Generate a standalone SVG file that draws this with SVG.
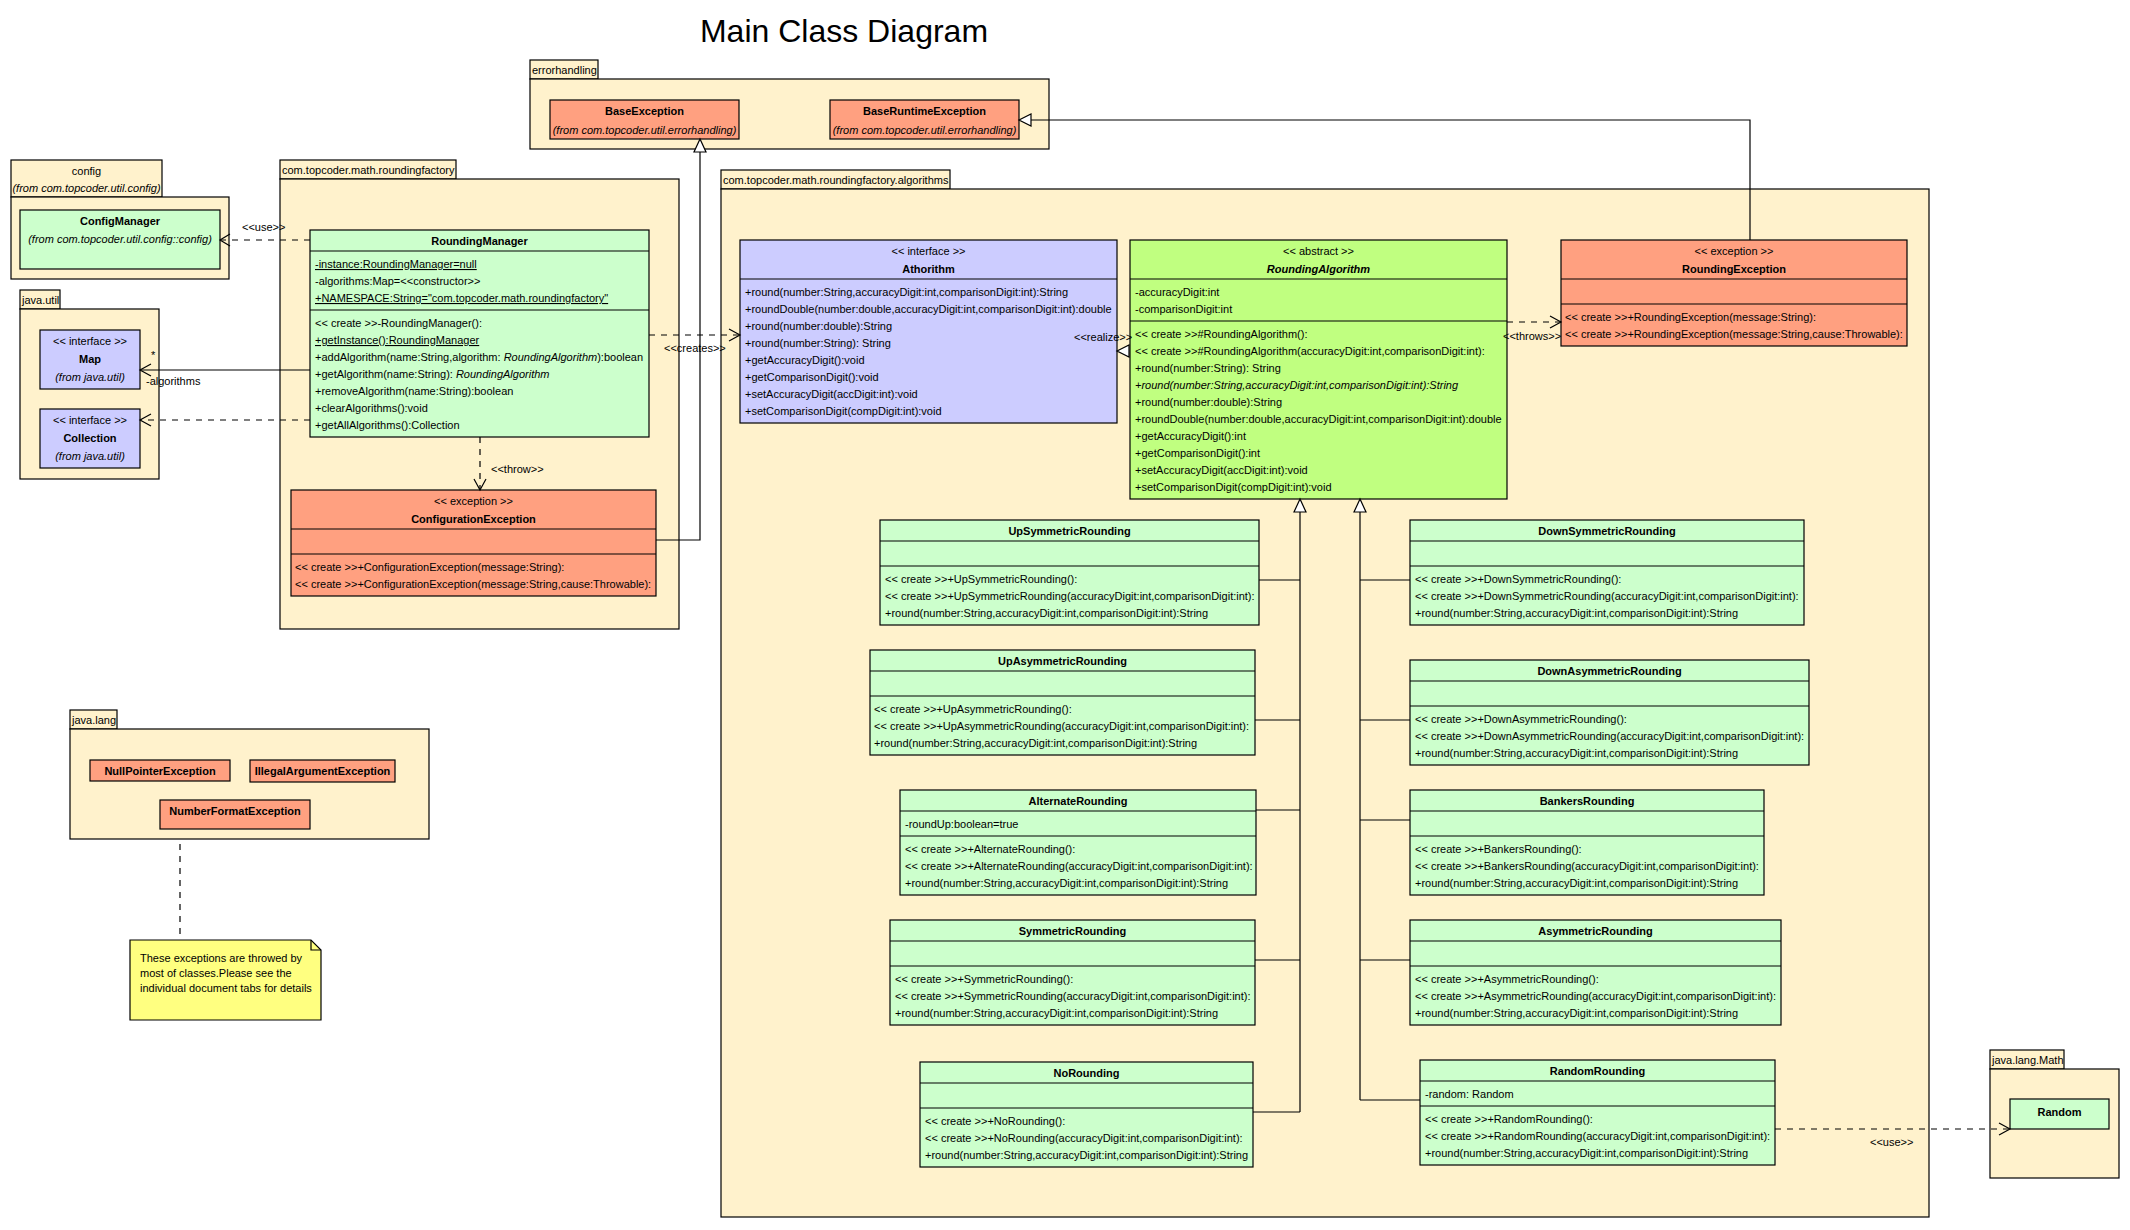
<svg xmlns="http://www.w3.org/2000/svg" width="2130" height="1230" viewBox="0 0 2130 1230">
<style>
text{font-family:"Liberation Sans",Arial,sans-serif;font-size:11px;fill:#000}
.title{font-size:32px}
.b{font-weight:bold}
.i{font-style:italic}
.c{text-anchor:middle}
.u{text-decoration:underline}
.pkg{fill:#FFF2CC;stroke:#000;stroke-width:1.2}
.cls{fill:#CCFFCC;stroke:#000;stroke-width:1.2}
.ifc{fill:#CCCCFF;stroke:#000;stroke-width:1.2}
.abs{fill:#C0FF80;stroke:#000;stroke-width:1.2}
.exc{fill:#FFA080;stroke:#000;stroke-width:1.2}
.note{fill:#FFFF80;stroke:#000;stroke-width:1.2}
.sep{stroke:#000;stroke-width:1.2}
.ln{fill:none;stroke:#000;stroke-width:1.2}
.dash{stroke-dasharray:6,6}
.tri{fill:#fff;stroke:#000;stroke-width:1.2}
</style>
<rect width="2130" height="1230" fill="#fff"/>
<text class="title c" x="844" y="42">Main Class Diagram</text>

<g id="packages">
<g id="pkg-errorhandling"><rect class="pkg" x="530" y="60" width="68" height="19"/><rect class="pkg" x="530" y="79" width="519" height="70"/><text x="532" y="74">errorhandling</text></g>
<g id="pkg-config"><rect class="pkg" x="11" y="160" width="151" height="37"/><rect class="pkg" x="11" y="197" width="218" height="82"/><text class="c" x="86.5" y="175">config</text><text class="c i" x="86.5" y="192">(from com.topcoder.util.config)</text></g>
<g id="pkg-javautil"><rect class="pkg" x="20" y="290" width="40" height="19"/><rect class="pkg" x="20" y="309" width="139" height="170"/><text x="22" y="304">java.util</text></g>
<g id="pkg-roundingfactory"><rect class="pkg" x="280" y="160" width="176" height="19"/><rect class="pkg" x="280" y="179" width="399" height="450"/><text x="282" y="174">com.topcoder.math.roundingfactory</text></g>
<g id="pkg-algorithms"><rect class="pkg" x="721" y="170" width="229" height="19"/><rect class="pkg" x="721" y="189" width="1208" height="1028"/><text x="723" y="184">com.topcoder.math.roundingfactory.algorithms</text></g>
<g id="pkg-javalang"><rect class="pkg" x="70" y="710" width="47" height="19"/><rect class="pkg" x="70" y="729" width="359" height="110"/><text x="72" y="724">java.lang</text></g>
<g id="pkg-javalangmath"><rect class="pkg" x="1990" y="1050" width="74" height="19"/><rect class="pkg" x="1990" y="1069" width="129" height="109"/><text x="1992" y="1064">java.lang.Math</text></g>
</g>

<g id="nodes">
<g id="ConfigManager"><rect class="cls" x="20" y="210" width="200" height="59"/><text class="c b" x="120" y="225">ConfigManager</text><text class="c i" x="120" y="243">(from com.topcoder.util.config::config)</text></g>
<g id="Map"><rect class="ifc" x="40" y="330" width="100" height="59"/><text class="c" x="90" y="345">&lt;&lt; interface &gt;&gt;</text><text class="c b" x="90" y="363">Map</text><text class="c i" x="90" y="381">(from java.util)</text></g>
<g id="Collection"><rect class="ifc" x="40" y="409" width="100" height="59"/><text class="c" x="90" y="424">&lt;&lt; interface &gt;&gt;</text><text class="c b" x="90" y="442">Collection</text><text class="c i" x="90" y="460">(from java.util)</text></g>

<g id="RoundingManager"><rect class="cls" x="310" y="230" width="339" height="207"/>
<line class="sep" x1="310" y1="251" x2="649" y2="251"/><line class="sep" x1="310" y1="310" x2="649" y2="310"/>
<text class="c b" x="479.5" y="245">RoundingManager</text>
<text class="u" x="315" y="268">-instance:RoundingManager=null</text>
<text x="315" y="285">-algorithms:Map=&lt;&lt;constructor&gt;&gt;</text>
<text class="u" x="315" y="302">+NAMESPACE:String="com.topcoder.math.roundingfactory"</text>
<text x="315" y="327">&lt;&lt; create &gt;&gt;-RoundingManager():</text>
<text class="u" x="315" y="344">+getInstance():RoundingManager</text>
<text x="315" y="361">+addAlgorithm(name:String,algorithm: <tspan class="i">RoundingAlgorithm</tspan>):boolean</text>
<text x="315" y="378">+getAlgorithm(name:String): <tspan class="i">RoundingAlgorithm</tspan></text>
<text x="315" y="395">+removeAlgorithm(name:String):boolean</text>
<text x="315" y="412">+clearAlgorithms():void</text>
<text x="315" y="429">+getAllAlgorithms():Collection</text>
</g>

<g id="ConfigurationException"><rect class="exc" x="291" y="490" width="365" height="106"/>
<line class="sep" x1="291" y1="529" x2="656" y2="529"/><line class="sep" x1="291" y1="554" x2="656" y2="554"/>
<text class="c" x="473.5" y="505">&lt;&lt; exception &gt;&gt;</text><text class="c b" x="473.5" y="523">ConfigurationException</text>
<text x="295" y="571">&lt;&lt; create &gt;&gt;+ConfigurationException(message:String):</text>
<text x="295" y="588">&lt;&lt; create &gt;&gt;+ConfigurationException(message:String,cause:Throwable):</text>
</g>

<g id="BaseException"><rect class="exc" x="550" y="100" width="189" height="39"/><text class="c b" x="644.5" y="115">BaseException</text><text class="c i" x="644.5" y="134">(from com.topcoder.util.errorhandling)</text></g>
<g id="BaseRuntimeException"><rect class="exc" x="830" y="100" width="189" height="39"/><text class="c b" x="924.5" y="115">BaseRuntimeException</text><text class="c i" x="924.5" y="134">(from com.topcoder.util.errorhandling)</text></g>

<g id="Athorithm"><rect class="ifc" x="740" y="240" width="377" height="183"/>
<line class="sep" x1="740" y1="279" x2="1117" y2="279"/>
<text class="c" x="928.5" y="255">&lt;&lt; interface &gt;&gt;</text><text class="c b" x="928.5" y="273">Athorithm</text>
<text x="745" y="296">+round(number:String,accuracyDigit:int,comparisonDigit:int):String</text>
<text x="745" y="313">+roundDouble(number:double,accuracyDigit:int,comparisonDigit:int):double</text>
<text x="745" y="330">+round(number:double):String</text>
<text x="745" y="347">+round(number:String): String</text>
<text x="745" y="364">+getAccuracyDigit():void</text>
<text x="745" y="381">+getComparisonDigit():void</text>
<text x="745" y="398">+setAccuracyDigit(accDigit:int):void</text>
<text x="745" y="415">+setComparisonDigit(compDigit:int):void</text>
</g>

<g id="RoundingAlgorithm"><rect class="abs" x="1130" y="240" width="377" height="259"/>
<line class="sep" x1="1130" y1="279" x2="1507" y2="279"/><line class="sep" x1="1130" y1="321" x2="1507" y2="321"/>
<text class="c" x="1318.5" y="255">&lt;&lt; abstract &gt;&gt;</text><text class="c b i" x="1318.5" y="273">RoundingAlgorithm</text>
<text x="1135" y="296">-accuracyDigit:int</text>
<text x="1135" y="313">-comparisonDigit:int</text>
<text x="1135" y="338">&lt;&lt; create &gt;&gt;#RoundingAlgorithm():</text>
<text x="1135" y="355">&lt;&lt; create &gt;&gt;#RoundingAlgorithm(accuracyDigit:int,comparisonDigit:int):</text>
<text x="1135" y="372">+round(number:String): String</text>
<text class="i" x="1135" y="389">+round(number:String,accuracyDigit:int,comparisonDigit:int):String</text>
<text x="1135" y="406">+round(number:double):String</text>
<text x="1135" y="423">+roundDouble(number:double,accuracyDigit:int,comparisonDigit:int):double</text>
<text x="1135" y="440">+getAccuracyDigit():int</text>
<text x="1135" y="457">+getComparisonDigit():int</text>
<text x="1135" y="474">+setAccuracyDigit(accDigit:int):void</text>
<text x="1135" y="491">+setComparisonDigit(compDigit:int):void</text>
</g>

<g id="RoundingException"><rect class="exc" x="1561" y="240" width="346" height="106"/>
<line class="sep" x1="1561" y1="279" x2="1907" y2="279"/><line class="sep" x1="1561" y1="304" x2="1907" y2="304"/>
<text class="c" x="1734" y="255">&lt;&lt; exception &gt;&gt;</text><text class="c b" x="1734" y="273">RoundingException</text>
<text x="1565" y="321">&lt;&lt; create &gt;&gt;+RoundingException(message:String):</text>
<text x="1565" y="338">&lt;&lt; create &gt;&gt;+RoundingException(message:String,cause:Throwable):</text>
</g>

<g id="UpSymmetricRounding"><rect class="cls" x="880" y="520" width="379" height="105"/>
<line class="sep" x1="880" y1="541" x2="1259" y2="541"/><line class="sep" x1="880" y1="566" x2="1259" y2="566"/>
<text class="c b" x="1069.5" y="535">UpSymmetricRounding</text>
<text x="885" y="583">&lt;&lt; create &gt;&gt;+UpSymmetricRounding():</text>
<text x="885" y="600">&lt;&lt; create &gt;&gt;+UpSymmetricRounding(accuracyDigit:int,comparisonDigit:int):</text>
<text x="885" y="617">+round(number:String,accuracyDigit:int,comparisonDigit:int):String</text>
</g>
<g id="UpAsymmetricRounding"><rect class="cls" x="870" y="650" width="385" height="105"/>
<line class="sep" x1="870" y1="671" x2="1255" y2="671"/><line class="sep" x1="870" y1="696" x2="1255" y2="696"/>
<text class="c b" x="1062.5" y="665">UpAsymmetricRounding</text>
<text x="874" y="713">&lt;&lt; create &gt;&gt;+UpAsymmetricRounding():</text>
<text x="874" y="730">&lt;&lt; create &gt;&gt;+UpAsymmetricRounding(accuracyDigit:int,comparisonDigit:int):</text>
<text x="874" y="747">+round(number:String,accuracyDigit:int,comparisonDigit:int):String</text>
</g>
<g id="AlternateRounding"><rect class="cls" x="900" y="790" width="356" height="105"/>
<line class="sep" x1="900" y1="811" x2="1256" y2="811"/><line class="sep" x1="900" y1="836" x2="1256" y2="836"/>
<text class="c b" x="1078" y="805">AlternateRounding</text>
<text x="905" y="828">-roundUp:boolean=true</text>
<text x="905" y="853">&lt;&lt; create &gt;&gt;+AlternateRounding():</text>
<text x="905" y="870">&lt;&lt; create &gt;&gt;+AlternateRounding(accuracyDigit:int,comparisonDigit:int):</text>
<text x="905" y="887">+round(number:String,accuracyDigit:int,comparisonDigit:int):String</text>
</g>
<g id="SymmetricRounding"><rect class="cls" x="890" y="920" width="365" height="105"/>
<line class="sep" x1="890" y1="941" x2="1255" y2="941"/><line class="sep" x1="890" y1="966" x2="1255" y2="966"/>
<text class="c b" x="1072.5" y="935">SymmetricRounding</text>
<text x="895" y="983">&lt;&lt; create &gt;&gt;+SymmetricRounding():</text>
<text x="895" y="1000">&lt;&lt; create &gt;&gt;+SymmetricRounding(accuracyDigit:int,comparisonDigit:int):</text>
<text x="895" y="1017">+round(number:String,accuracyDigit:int,comparisonDigit:int):String</text>
</g>
<g id="NoRounding"><rect class="cls" x="920" y="1062" width="333" height="105"/>
<line class="sep" x1="920" y1="1083" x2="1253" y2="1083"/><line class="sep" x1="920" y1="1108" x2="1253" y2="1108"/>
<text class="c b" x="1086.5" y="1077">NoRounding</text>
<text x="925" y="1125">&lt;&lt; create &gt;&gt;+NoRounding():</text>
<text x="925" y="1142">&lt;&lt; create &gt;&gt;+NoRounding(accuracyDigit:int,comparisonDigit:int):</text>
<text x="925" y="1159">+round(number:String,accuracyDigit:int,comparisonDigit:int):String</text>
</g>
<g id="DownSymmetricRounding"><rect class="cls" x="1410" y="520" width="394" height="105"/>
<line class="sep" x1="1410" y1="541" x2="1804" y2="541"/><line class="sep" x1="1410" y1="566" x2="1804" y2="566"/>
<text class="c b" x="1607" y="535">DownSymmetricRounding</text>
<text x="1415" y="583">&lt;&lt; create &gt;&gt;+DownSymmetricRounding():</text>
<text x="1415" y="600">&lt;&lt; create &gt;&gt;+DownSymmetricRounding(accuracyDigit:int,comparisonDigit:int):</text>
<text x="1415" y="617">+round(number:String,accuracyDigit:int,comparisonDigit:int):String</text>
</g>
<g id="DownAsymmetricRounding"><rect class="cls" x="1410" y="660" width="399" height="105"/>
<line class="sep" x1="1410" y1="681" x2="1809" y2="681"/><line class="sep" x1="1410" y1="706" x2="1809" y2="706"/>
<text class="c b" x="1609.5" y="675">DownAsymmetricRounding</text>
<text x="1415" y="723">&lt;&lt; create &gt;&gt;+DownAsymmetricRounding():</text>
<text x="1415" y="740">&lt;&lt; create &gt;&gt;+DownAsymmetricRounding(accuracyDigit:int,comparisonDigit:int):</text>
<text x="1415" y="757">+round(number:String,accuracyDigit:int,comparisonDigit:int):String</text>
</g>
<g id="BankersRounding"><rect class="cls" x="1410" y="790" width="354" height="105"/>
<line class="sep" x1="1410" y1="811" x2="1764" y2="811"/><line class="sep" x1="1410" y1="836" x2="1764" y2="836"/>
<text class="c b" x="1587" y="805">BankersRounding</text>
<text x="1415" y="853">&lt;&lt; create &gt;&gt;+BankersRounding():</text>
<text x="1415" y="870">&lt;&lt; create &gt;&gt;+BankersRounding(accuracyDigit:int,comparisonDigit:int):</text>
<text x="1415" y="887">+round(number:String,accuracyDigit:int,comparisonDigit:int):String</text>
</g>
<g id="AsymmetricRounding"><rect class="cls" x="1410" y="920" width="371" height="105"/>
<line class="sep" x1="1410" y1="941" x2="1781" y2="941"/><line class="sep" x1="1410" y1="966" x2="1781" y2="966"/>
<text class="c b" x="1595.5" y="935">AsymmetricRounding</text>
<text x="1415" y="983">&lt;&lt; create &gt;&gt;+AsymmetricRounding():</text>
<text x="1415" y="1000">&lt;&lt; create &gt;&gt;+AsymmetricRounding(accuracyDigit:int,comparisonDigit:int):</text>
<text x="1415" y="1017">+round(number:String,accuracyDigit:int,comparisonDigit:int):String</text>
</g>
<g id="RandomRounding"><rect class="cls" x="1420" y="1060" width="355" height="105"/>
<line class="sep" x1="1420" y1="1081" x2="1775" y2="1081"/><line class="sep" x1="1420" y1="1106" x2="1775" y2="1106"/>
<text class="c b" x="1597.5" y="1075">RandomRounding</text>
<text x="1425" y="1098">-random: Random</text>
<text x="1425" y="1123">&lt;&lt; create &gt;&gt;+RandomRounding():</text>
<text x="1425" y="1140">&lt;&lt; create &gt;&gt;+RandomRounding(accuracyDigit:int,comparisonDigit:int):</text>
<text x="1425" y="1157">+round(number:String,accuracyDigit:int,comparisonDigit:int):String</text>
</g>
<g id="Random"><rect class="cls" x="2010" y="1099" width="99" height="30"/><text class="c b" x="2059.5" y="1116">Random</text></g>

<g id="NullPointerException"><rect class="exc" x="90" y="760" width="140" height="21"/><text class="c b" x="160" y="775">NullPointerException</text></g>
<g id="IllegalArgumentException"><rect class="exc" x="250" y="760" width="145" height="22"/><text class="c b" x="322.5" y="775">IllegalArgumentException</text></g>
<g id="NumberFormatException"><rect class="exc" x="160" y="800" width="150" height="29"/><text class="c b" x="235" y="815">NumberFormatException</text></g>

<g id="Note"><path class="note" d="M130,940 H311 L321,950 V1020 H130 Z"/><path class="ln" d="M311,940 V950 H321"/>
<text x="140" y="962">These exceptions are throwed by</text>
<text x="140" y="977">most of classes.Please see the</text>
<text x="140" y="992">individual document tabs for details</text>
</g>
</g>

<g id="connectors">
<path class="ln dash" d="M310,240 H220"/><path class="ln" d="M230,234 L220,240 L230,246"/>
<text x="242" y="231">&lt;&lt;use&gt;&gt;</text>
<path class="ln" d="M310,370 H140"/><path class="ln" d="M151,364 L140,370 L151,376"/>
<text x="151" y="359">*</text><text x="146" y="385">-algorithms</text>
<path class="ln dash" d="M310,420 H140"/><path class="ln" d="M151,414 L140,420 L151,426"/>
<path class="ln dash" d="M480,437 V490"/><path class="ln" d="M474,479 L480,490 L486,479"/>
<text x="491" y="473">&lt;&lt;throw&gt;&gt;</text>
<path class="ln dash" d="M649,335 H740"/><path class="ln" d="M729,329 L740,335 L729,341"/>
<text x="664" y="352">&lt;&lt;creates&gt;&gt;</text>
<path class="ln" d="M656,540 H700 V152"/><path class="tri" d="M700,139 L694,152 H706 Z"/>
<path class="tri" d="M1117,351 L1129,345 V357 Z"/>
<text x="1074" y="341">&lt;&lt;realize&gt;&gt;</text>
<path class="ln dash" d="M1507,322 H1561"/><path class="ln" d="M1550,316 L1561,322 L1550,328"/>
<text x="1503" y="340">&lt;&lt;throws&gt;&gt;</text>
<path class="ln" d="M1750,240 V120 H1031"/><path class="tri" d="M1019,120 L1031,114 V126 Z"/>
<path class="ln" d="M1300,512 V1112 M1259,580 H1300 M1255,720 H1300 M1256,810 H1300 M1255,960 H1300 M1253,1112 H1300"/>
<path class="tri" d="M1300,499 L1294,512 H1306 Z"/>
<path class="ln" d="M1360,512 V1100 M1360,580 H1410 M1360,720 H1410 M1360,820 H1410 M1360,960 H1410 M1360,1100 H1420"/>
<path class="tri" d="M1360,499 L1354,512 H1366 Z"/>
<path class="ln dash" d="M1775,1129 H2010"/><path class="ln" d="M1999,1123 L2010,1129 L1999,1135"/>
<text x="1870" y="1146">&lt;&lt;use&gt;&gt;</text>
<path class="ln dash" d="M180,844 V940"/>
</g>
</svg>
